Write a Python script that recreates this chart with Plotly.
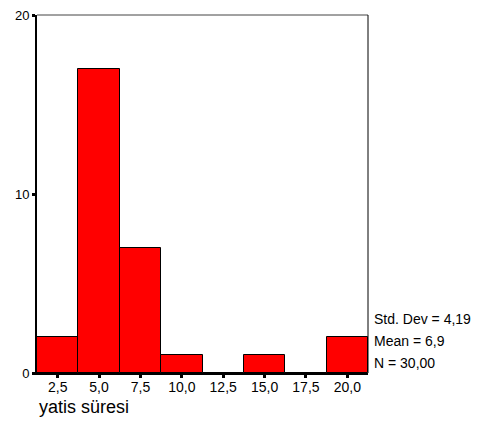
import plotly.graph_objects as go

bin_centers = [2.5, 5.0, 7.5, 10.0, 12.5, 15.0, 17.5, 20.0]
counts = [2, 17, 7, 1, 0, 1, 0, 2]
x_tick_labels = ["2,5", "5,0", "7,5", "10,0", "12,5", "15,0", "17,5", "20,0"]
y_ticks = [0, 10, 20]
stats_lines = ["Std. Dev = 4,19", "Mean = 6,9", "N = 30,00"]
x_title = "yatis süresi"

FONT = "Arial, Liberation Sans, sans-serif"
PLOT_H = 358

fig = go.Figure()
fig.add_trace(go.Bar(
    x=bin_centers, y=counts, width=2.5,
    marker=dict(color="#FF0000", line=dict(color="black", width=1)),
))

fig.update_layout(
    width=479, height=439,
    margin=dict(l=29, r=119, t=7, b=74, autoexpand=False),
    paper_bgcolor="white", plot_bgcolor="white",
    showlegend=False,
    bargap=0,
    font=dict(family=FONT, size=14, color="black"),
)
fig.update_xaxes(
    range=[1.25, 21.25], tickvals=bin_centers, ticktext=x_tick_labels,
    showgrid=False, zeroline=False, showline=True, linecolor="black", linewidth=2,
    ticks="outside", ticklen=3, tickwidth=3, tickcolor="black",
    tickfont=dict(family=FONT, size=14), automargin=False,
    ticklabelstandoff=-3,
)
fig.update_yaxes(
    range=[0, 20], tickvals=y_ticks,
    showgrid=False, zeroline=False, showline=True, linecolor="black", linewidth=2,
    ticks="outside", ticklen=3, tickwidth=3, tickcolor="black",
    tickfont=dict(family=FONT, size=13), automargin=False,
    ticklabeloverflow="allow",
)
# top and right frame
fig.add_shape(type="line", xref="paper", yref="paper", x0=0, x1=1, y0=1, y1=1,
              line=dict(color="#444", width=1))
fig.add_shape(type="line", xref="paper", yref="paper", x0=1, x1=1, y0=0, y1=1,
              line=dict(color="black", width=1))

ys = [319, 341, 363]
for txt, yp in zip(stats_lines, ys):
    fig.add_annotation(text=txt, xref="paper", yref="paper",
                       x=(372 - 37) / 331, y=(373 - yp) / PLOT_H, xanchor="left", yanchor="middle",
                       showarrow=False, font=dict(family=FONT, size=14))

fig.add_annotation(text=x_title, xref="paper", yref="paper",
                   x=0, y=-(407 - 373) / PLOT_H, xanchor="left", yanchor="middle",
                   showarrow=False, font=dict(family=FONT, size=18))

fig.write_html("out.html")
